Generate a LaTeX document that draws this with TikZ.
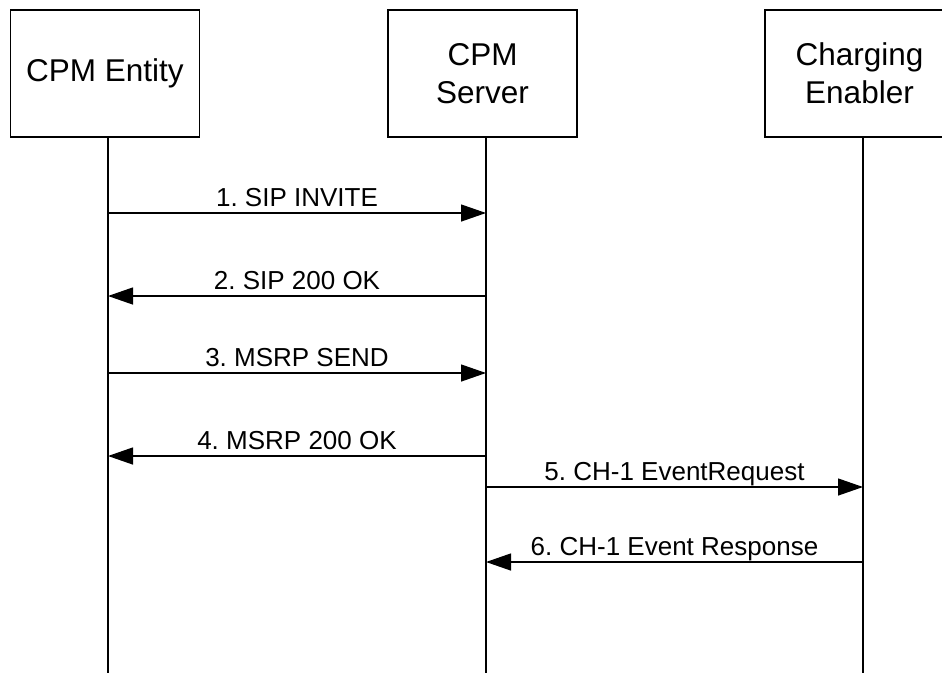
\documentclass[tikz,border=0pt]{standalone}
\usepackage{fontspec}
\setmainfont{Liberation Sans}
\usetikzlibrary{arrows.meta}
\frenchspacing
\begin{document}
\begin{tikzpicture}[x=1pt,y=-1pt,
  entitybox/.style={draw, line width=1.5pt, minimum width=189pt, minimum height=127pt, inner sep=0pt, align=center, font=\fontsize{31.5}{38}\selectfont},
  lifeline/.style={line width=1.5pt},
  msg/.style={line width=1.3pt, -{Triangle[length=25pt,width=17pt]}},
  lbl/.style={midway, anchor=base, yshift=7pt, inner sep=0pt, font=\fontsize{26}{30}\selectfont}]
\useasboundingbox (0,0) rectangle (942,673);
\node[entitybox] (ent) at (105,73.5) {CPM Entity};
\node[entitybox] (srv) at (482.5,73.5) {CPM\\Server};
\node[entitybox] (chg) at (859.5,73.5) {Charging\\Enabler};
\coordinate (l1) at (108,673);
\coordinate (l2) at (486,673);
\coordinate (l3) at (863,673);
\draw[lifeline] (ent.south -| l1) -- (l1);
\draw[lifeline] (srv.south -| l2) -- (l2);
\draw[lifeline] (chg.south -| l3) -- (l3);
\draw[msg] (l1 |- 0,213) -- node[lbl]{1. SIP INVITE} (l2 |- 0,213);
\draw[msg] (l2 |- 0,296) -- node[lbl]{2. SIP 200 OK} (l1 |- 0,296);
\draw[msg] (l1 |- 0,373) -- node[lbl]{3. MSRP SEND} (l2 |- 0,373);
\draw[msg] (l2 |- 0,456) -- node[lbl]{4. MSRP 200 OK} (l1 |- 0,456);
\draw[msg] (l2 |- 0,487) -- node[lbl]{5. CH-1 EventRequest} (l3 |- 0,487);
\draw[msg] (l3 |- 0,562) -- node[lbl]{6. CH-1 Event Response} (l2 |- 0,562);
\end{tikzpicture}
\end{document}
